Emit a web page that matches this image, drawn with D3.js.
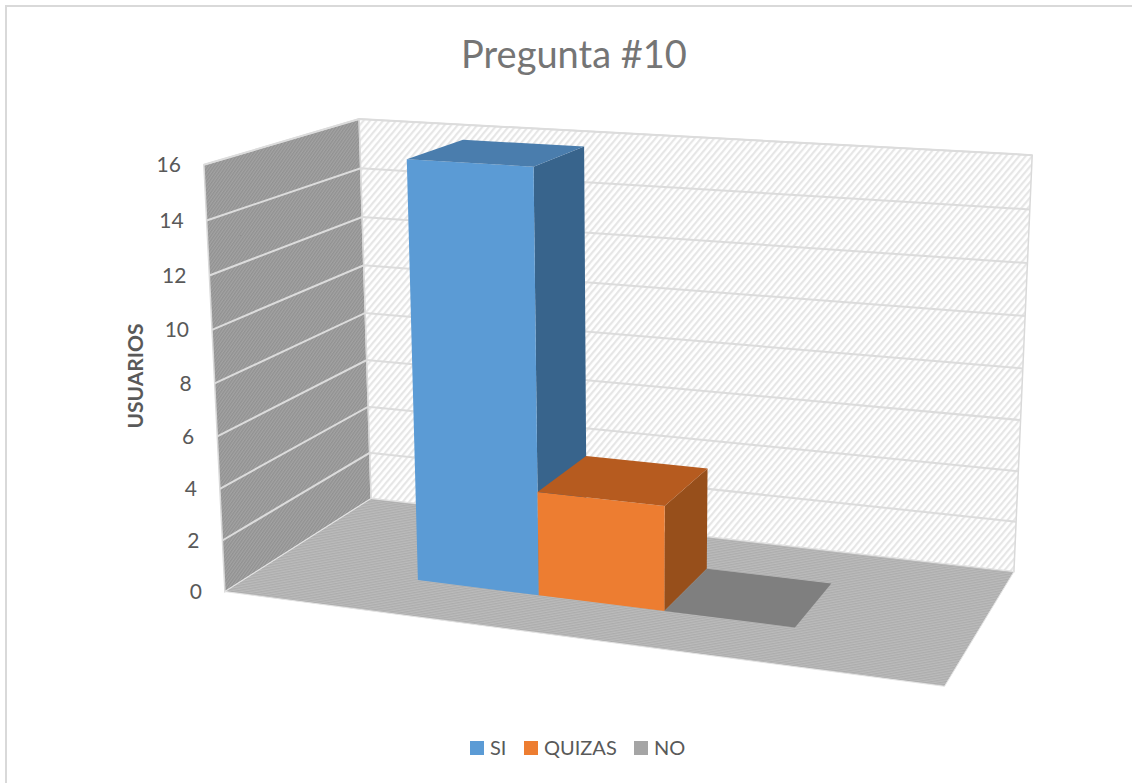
<!DOCTYPE html>
<html lang="es">
<head>
<meta charset="utf-8">
<title>Pregunta #10</title>
<script src="https://cdn.jsdelivr.net/npm/d3@7/dist/d3.min.js"></script>
<style>
  html, body { margin: 0; padding: 0; background: #fff; }
  svg { display: block; }
  text { font-family: Lato, "Open Sans", sans-serif; fill: #595959; }
</style>
</head>
<body>
<svg id="chart" width="1132" height="783"></svg>
<script>
// Survey answers
const categories = ["SI", "QUIZAS", "NO"];
const respuestas = [16, 4, 0];
const tickValues = [0, 2, 4, 6, 8, 10, 12, 14, 16];
const chartTitle = "Pregunta #10";
const axisTitle = "USUARIOS";

const frontColors = { SI: "#5B9BD5", QUIZAS: "#ED7D31", NO: "#A5A5A5" };
const topColors = { SI: "#4A7DAD", QUIZAS: "#B65B1F", NO: "#7F7F7F" };
const sideColors = { SI: "#38648C", QUIZAS: "#974F1B", NO: "#696969" };

// World axes of the 3D box, each normalised to 0..1
const xBand = d3.scaleBand().domain(categories).range([0, 1]).paddingInner(0).paddingOuter(1.26);
const yValue = d3.scaleLinear().domain([0, 16]).range([0, 1]);
const depthFront = 0.295, depthBack = 0.70;

// Camera calibration: box corners and where they land on the page
const calibration = [
  [0, 0, 0, 224, 592], [1, 0, 0, 946, 686], [1, 0, 1, 1013, 572], [0, 0, 1, 372, 500],
  [0, 1, 0, 204, 163], [0, 1, 0, 204, 163], [0, 1, 1, 360, 117], [1, 1, 1, 1033, 153],
  [0, 0.5, 0, 215, 382], [0, 0.5, 1, 366, 313], [1, 0.5, 1, 1023, 367],
  [0.229, 1, 0.295, 407, 158], [0.41, 1, 0.295, 535, 175], [0.41, 1, 0.70, 584, 149], [0.229, 1, 0.70, 461, 140],
  [0.41, 0.25, 0.295, 538, 492], [0.593, 0.25, 0.295, 666, 505], [0.593, 0.25, 0.70, 708, 469]
];

// Least-squares fit of a 3x4 projective camera matrix (last element fixed to 1)
function fitCamera(points) {
  const n = 11;
  const A = Array.from({ length: n }, () => new Array(n + 1).fill(0));
  const accumulate = (row, rhs) => {
    for (let i = 0; i < n; i++) {
      for (let j = 0; j < n; j++) A[i][j] += row[i] * row[j];
      A[i][n] += row[i] * rhs;
    }
  };
  points.forEach(([X, Y, Z, px, py]) => {
    const x = px / 1000, y = py / 1000;
    accumulate([X, Y, Z, 1, 0, 0, 0, 0, -x * X, -x * Y, -x * Z], x);
    accumulate([0, 0, 0, 0, X, Y, Z, 1, -y * X, -y * Y, -y * Z], y);
  });
  for (let c = 0; c < n; c++) {
    let pivot = c;
    for (let r = c + 1; r < n; r++) if (Math.abs(A[r][c]) > Math.abs(A[pivot][c])) pivot = r;
    [A[c], A[pivot]] = [A[pivot], A[c]];
    for (let r = 0; r < n; r++) {
      if (r === c) continue;
      const f = A[r][c] / A[c][c];
      for (let k = c; k <= n; k++) A[r][k] -= f * A[c][k];
    }
  }
  return A.map((row, i) => row[n] / row[i]);
}

const cam = fitCamera(calibration);
function project(X, Y, Z) {
  const w = cam[8] * X + cam[9] * Y + cam[10] * Z + 1;
  return [
    1000 * (cam[0] * X + cam[1] * Y + cam[2] * Z + cam[3]) / w,
    1000 * (cam[4] * X + cam[5] * Y + cam[6] * Z + cam[7]) / w
  ];
}

const svg = d3.select("#chart");
const outline = d3.line();
const closed = pts => outline(pts) + "Z";

// Hatched fills for the walls and floor
const defs = svg.append("defs");
function hatch(id, base, stripe, size, width, angle) {
  const p = defs.append("pattern").attr("id", id).attr("patternUnits", "userSpaceOnUse")
    .attr("width", size).attr("height", size)
    .attr("patternTransform", `rotate(${angle})`);
  p.append("rect").attr("width", size).attr("height", size).attr("fill", base);
  p.append("rect").attr("width", width).attr("height", size).attr("fill", stripe);
}
hatch("paredLateral", "#A3A3A3", "#919191", 2.5, 1.25, 35);
hatch("paredFondo", "#FFFFFF", "#E6E6E6", 5, 2.2, 40);
hatch("piso", "#BBBBBB", "#ADADAD", 2.5, 1.25, 80);

// Chart frame: only the top and left edges are visible
svg.append("path").attr("d", "M6,783V6H1132").attr("fill", "none")
  .attr("stroke", "#D9D9D9").attr("stroke-width", 2);

// Walls and floor
svg.append("path")
  .attr("d", closed([project(0, 0, 0), project(0, 1, 0), project(0, 1, 1), project(0, 0, 1)]))
  .attr("fill", "url(#paredLateral)").attr("stroke", "#D9D9D9").attr("stroke-width", 1.5);
svg.append("path")
  .attr("d", closed([project(0, 0, 1), project(0, 1, 1), project(1, 1, 1), project(1, 0, 1)]))
  .attr("fill", "url(#paredFondo)").attr("stroke", "#D9D9D9").attr("stroke-width", 1.5);
svg.append("path")
  .attr("d", closed([project(0, 0, 0), project(1, 0, 0), project(1, 0, 1), project(0, 0, 1)]))
  .attr("fill", "url(#piso)").attr("stroke", "#E4E4E4").attr("stroke-width", 1);

// Gridlines run along the side wall and then the back wall
svg.append("g").selectAll("path").data(tickValues.filter(t => t > 0)).join("path")
  .attr("d", t => outline([project(0, yValue(t), 0), project(0, yValue(t), 1), project(1, yValue(t), 1)]))
  .attr("fill", "none").attr("stroke", "#DCDCDC").attr("stroke-width", 2);

// Value labels beside the front edge of the side wall
svg.append("g").selectAll("text").data(tickValues).join("text")
  .attr("x", t => project(0, yValue(t), 0)[0] - 23)
  .attr("y", t => project(0, yValue(t), 0)[1] + 7.5)
  .attr("text-anchor", "end").attr("font-size", 21)
  .text(t => t);

// Bars: left to right so each one covers the side of the previous one
const bars = svg.append("g");
categories.forEach((cat, i) => {
  const x0 = xBand(cat), x1 = x0 + xBand.bandwidth();
  const h = yValue(respuestas[i]);
  if (h > 0) {
    bars.append("path").attr("fill", sideColors[cat])
      .attr("d", closed([project(x1, 0, depthFront), project(x1, h, depthFront), project(x1, h, depthBack), project(x1, 0, depthBack)]));
    bars.append("path").attr("fill", frontColors[cat])
      .attr("d", closed([project(x0, 0, depthFront), project(x1, 0, depthFront), project(x1, h, depthFront), project(x0, h, depthFront)]));
  }
  bars.append("path").attr("fill", topColors[cat])
    .attr("d", closed([project(x0, h, depthFront), project(x1, h, depthFront), project(x1, h, depthBack), project(x0, h, depthBack)]));
});

// Titles
svg.append("text").attr("x", 574).attr("y", 68).attr("text-anchor", "middle")
  .attr("font-size", 38).style("fill", "#757575").text(chartTitle);
svg.append("text").attr("transform", "translate(143,376) rotate(-90)").attr("text-anchor", "middle")
  .attr("font-size", 21).attr("font-weight", 700).text(axisTitle);

// Legend
const legendX = d3.scaleOrdinal().domain(categories).range([470, 524, 634]);
const legend = svg.append("g").selectAll("g").data(categories).join("g")
  .attr("transform", d => `translate(${legendX(d)},741)`);
legend.append("rect").attr("width", 14).attr("height", 14).attr("fill", d => frontColors[d]);
legend.append("text").attr("x", 20).attr("y", 14).attr("font-size", 20).text(d => d);
</script>
</body>
</html>
